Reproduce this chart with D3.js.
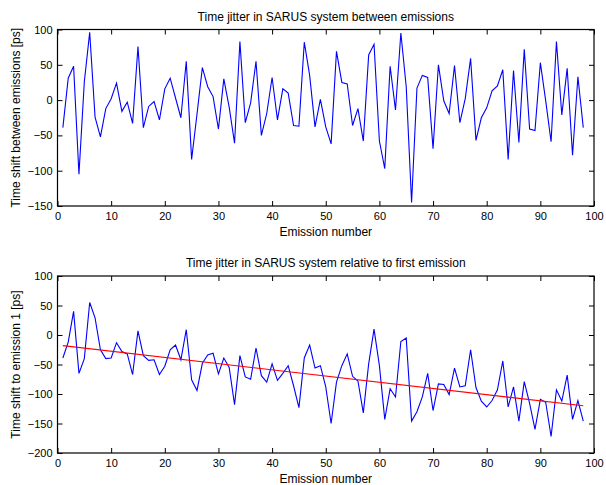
<!DOCTYPE html>
<html>
<head>
<meta charset="utf-8">
<script src="https://cdn.jsdelivr.net/npm/d3@7"></script>
<style>
body { margin: 0; background: #fff; }
svg text { font-family: "Liberation Sans", Arial, sans-serif; fill: #000; }
</style>
</head>
<body>
<div class="chart"></div>
<script>
// jitter between consecutive emissions [ps]
var jitterBetween = [-39, 31, 48, -105, 26, 96, -24, -52, -12, 2,
    24, -16, -3, -33, 76, -39, -9, -2, -28, 16,
    31, 3, -25, 55, -84, -20, 46, 19, 5, -41,
    30, -10, -61, 83, -32, -4, 55, -50, -19, 32,
    -28, 16, 10, -36, -37, 82, 35, -38, 1, -38,
    -62, 69, 25, 23, -36, -12, -58, 64, 79, -58,
    -97, 48, -14, 95, 19, -145, 17, 35, 32, -69,
    50, -1, -19, 49, -32, 2, 59, -57, -25, -11,
    13, 20, 43, -84, 42, -60, 72, -41, -43, 53,
    -1, -59, 83, -21, 45, -78, 33, -39];

// shift relative to emission 1 [ps]
var jitterFirst = [-39, -12, 40, -65, -40, 55, 29, -25, -40, -39,
    -13, -28, -32, -67, 7, -35, -43, -42, -67, -53,
    -25, -17, -42, 9, -76, -94, -48, -34, -31, -66,
    -39, -55, -118, -35, -71, -75, -22, -69, -80, -49,
    -77, -65, -52, -86, -123, -39, -17, -56, -52, -88,
    -150, -80, -52, -32, -70, -78, -132, -49, 10, -52,
    -143, -91, -105, -11, -5, -146, -130, -105, -65, -128,
    -83, -84, -101, -56, -88, -86, -25, -89, -112, -122,
    -111, -93, -44, -122, -88, -146, -79, -116, -160, -109,
    -114, -172, -93, -112, -68, -143, -111, -146];

// fitted trend line, value at first and last emission
var trendX = [1, 98];
var trendY = [-18, -120];

var xTicks = [0, 10, 20, 30, 40, 50, 60, 70, 80, 90, 100];
var yTicksTop = [-150, -100, -50, 0, 50, 100];
var yTicksBottom = [-200, -150, -100, -50, 0, 50, 100];

var W = 606, H = 485;
var left = 57.5, right = 594;

var svg = d3.select('.chart')
    .append('svg')
    .attr('width', W)
    .attr('height', H);

function fmt(d) {
    return d < 0 ? '\u2212' + Math.abs(d) : '' + d;
}

function drawPanel(opts) {
    var top = opts.top, bottom = opts.bottom;
    var data = opts.values.map(function(v, i) { return { n: i + 1, v: v }; });

    var x = d3.scaleLinear().domain([0, 100]).range([left, right]);
    var y = d3.scaleLinear().domain(opts.domain).range([bottom, top]);

    var g = svg.append('g');

    var line = d3.line()
        .x(function(d) { return x(d.n); })
        .y(function(d) { return y(d.v); });

    g.append('path')
        .datum(data)
        .attr('fill', 'none')
        .attr('stroke', '#0000ff')
        .attr('stroke-width', 1.1)
        .attr('d', line);

    if (opts.trend) {
        g.append('line')
            .attr('x1', x(trendX[0])).attr('y1', y(trendY[0]))
            .attr('x2', x(trendX[1])).attr('y2', y(trendY[1]))
            .attr('stroke', '#ff0000')
            .attr('stroke-width', 1.1);
    }

    // axes, ticks pointing inward on all four sides
    var xb = d3.axisBottom(x).tickValues(xTicks).tickSize(-5).tickPadding(6).tickFormat(fmt);
    var xt = d3.axisTop(x).tickValues(xTicks).tickSize(-5).tickFormat('');
    var yl = d3.axisLeft(y).tickValues(opts.ticks).tickSize(-5).tickPadding(5).tickFormat(fmt);
    var yr = d3.axisRight(y).tickValues(opts.ticks).tickSize(-5).tickFormat('');

    var axes = [
        g.append('g').attr('transform', 'translate(0,' + bottom + ')').call(xb),
        g.append('g').attr('transform', 'translate(0,' + top + ')').call(xt),
        g.append('g').attr('transform', 'translate(' + left + ',0)').call(yl),
        g.append('g').attr('transform', 'translate(' + right + ',0)').call(yr)
    ];
    axes.forEach(function(a) {
        a.select('.domain').remove();
        a.selectAll('line').attr('stroke', '#000').attr('stroke-width', 1);
        a.selectAll('text').style('font-size', '11px').attr('fill', '#000');
    });

    g.append('rect')
        .attr('x', left).attr('y', top)
        .attr('width', right - left).attr('height', bottom - top)
        .attr('fill', 'none')
        .attr('stroke', '#000')
        .attr('stroke-width', 1.2);

    g.append('text')
        .attr('x', (left + right) / 2).attr('y', top - 9)
        .attr('text-anchor', 'middle')
        .style('font-size', '12px')
        .text(opts.title);

    g.append('text')
        .attr('x', (left + right) / 2).attr('y', bottom + 30)
        .attr('text-anchor', 'middle')
        .style('font-size', '12px')
        .text('Emission number');

    g.append('text')
        .attr('transform', 'translate(20,' + ((top + bottom) / 2) + ') rotate(-90)')
        .attr('text-anchor', 'middle')
        .style('font-size', '12px')
        .text(opts.ylabel);
}

drawPanel({
    top: 29.5, bottom: 206,
    domain: [-150, 100],
    ticks: yTicksTop,
    values: jitterBetween,
    title: 'Time jitter in SARUS system between emissions',
    ylabel: 'Time shift between emissions [ps]'
});

drawPanel({
    top: 276, bottom: 453,
    domain: [-200, 100],
    ticks: yTicksBottom,
    values: jitterFirst,
    trend: true,
    title: 'Time jitter in SARUS system relative to first emission',
    ylabel: 'Time shift to emission 1 [ps]'
});
</script>
</body>
</html>
